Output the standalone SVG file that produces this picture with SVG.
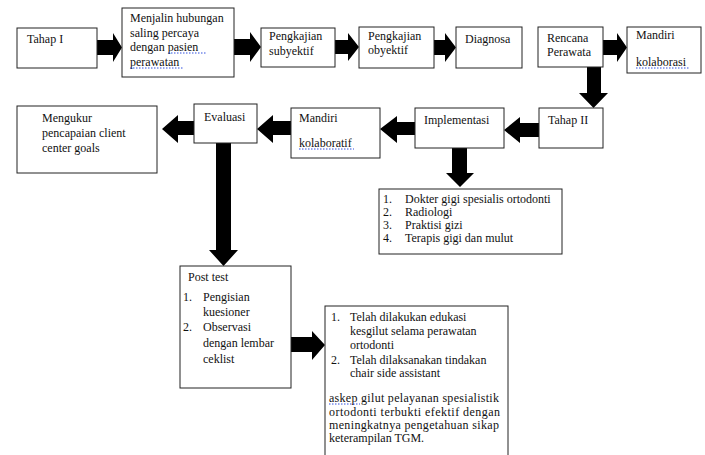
<svg xmlns="http://www.w3.org/2000/svg" width="705" height="455" viewBox="0 0 705 455">
<style>
.box{fill:#fff;stroke:#222;stroke-width:1}
text{font-family:"Liberation Serif","Times New Roman",serif;font-size:12px;fill:#111}
.arr{fill:#000}
.sq{stroke:#3050e0;stroke-width:1.2;stroke-dasharray:1.5 1.5;fill:none}
</style>
<rect width="705" height="455" fill="#fff"/>
<g id="connectors">
<polygon class="arr" points="97,40 113,40 113,33 122,47.5 113,62 113,55 97,55"/>
<polygon class="arr" points="234,39 250,39 250,32 261,47 250,62 250,55 234,55"/>
<polygon class="arr" points="335,40 348,40 348,33 359,47 348,61 348,54 335,54"/>
<polygon class="arr" points="434,40 445,40 445,33 456,47.5 445,62 445,55 434,55"/>
<polygon class="arr" points="603,40 617,40 617,33 627,47.5 617,62 617,55 603,55"/>
<polygon class="arr" points="587,67 601,67 601,93 608,93 593.5,108 579,93 587,93"/>
<polygon class="arr" points="539,123 520,123 520,117 504,130 520,143 520,137 539,137"/>
<polygon class="arr" points="415,122 397,122 397,116 380,129 397,143 397,135 415,135"/>
<polygon class="arr" points="291,121 273,121 273,115 257,129 273,143 273,135 291,135"/>
<polygon class="arr" points="194,121 178,121 178,115 162,129 178,143 178,135 194,135"/>
<polygon class="arr" points="452,148 467,148 467,173 474,173 460,187 446,173 452,173"/>
<polygon class="arr" points="216,143 231,143 231,250 238,250 223.5,266 209,250 216,250"/>
<polygon class="arr" points="291,337 312,337 312,331 325,345 312,360 312,352 291,352"/>
</g>
<g id="tahap1">
<rect class="box" x="17" y="28" width="80" height="40"/>
<text x="27" y="43">Tahap I</text>
</g>
<g id="menjalin">
<rect class="box" x="122" y="8" width="112" height="69"/>
<text x="130" y="22">Menjalin hubungan</text>
<text x="130" y="37">saling percaya</text>
<text x="130" y="51">dengan pasien</text>
<text x="130" y="66">perawatan</text>
<path class="sq" d="M168,53 H207 M130,68 H183"/>
</g>
<g id="subyektif">
<rect class="box" x="261" y="28" width="74" height="39"/>
<text x="269" y="40">Pengkajian</text>
<text x="269" y="55">subyektif</text>
</g>
<g id="obyektif">
<rect class="box" x="359" y="27" width="75" height="41"/>
<text x="368" y="40">Pengkajian</text>
<text x="368" y="54">obyektif</text>
</g>
<g id="diagnosa">
<rect class="box" x="456" y="27" width="66" height="41"/>
<text x="465" y="43">Diagnosa</text>
</g>
<g id="rencana">
<rect class="box" x="538" y="27" width="65" height="40"/>
<text x="547" y="42">Rencana</text>
<text x="547" y="56">Perawata</text>
</g>
<g id="mandiri-kolaborasi">
<rect class="box" x="627" y="27" width="74" height="46"/>
<text x="636" y="39">Mandiri</text>
<text x="636" y="66">kolaborasi</text>
<path class="sq" d="M636,68 H689"/>
</g>
<g id="tahap2">
<rect class="box" x="539" y="108" width="64" height="40"/>
<text x="548" y="124">Tahap II</text>
</g>
<g id="implementasi">
<rect class="box" x="415" y="108" width="89" height="40"/>
<text x="424" y="124">Implementasi</text>
</g>
<g id="mandiri-kolaboratif">
<rect class="box" x="291" y="108" width="89" height="50"/>
<text x="299" y="122">Mandiri</text>
<text x="299" y="147">kolaboratif</text>
<path class="sq" d="M299,149 H354"/>
</g>
<g id="evaluasi">
<rect class="box" x="194" y="104" width="63" height="39"/>
<text x="204" y="121">Evaluasi</text>
</g>
<g id="mengukur">
<rect class="box" x="17" y="106" width="140" height="67"/>
<text x="42" y="122">Mengukur</text>
<text x="42" y="137">pencapaian client</text>
<text x="42" y="152">center goals</text>
</g>
<g id="kolaborator-list">
<rect class="box" x="379" y="189" width="183" height="65"/>
<text x="383" y="203">1.</text><text x="405" y="203">Dokter gigi spesialis ortodonti</text>
<text x="383" y="216">2.</text><text x="405" y="216">Radiologi</text>
<text x="383" y="229">3.</text><text x="405" y="229">Praktisi gizi</text>
<text x="383" y="242">4.</text><text x="405" y="242">Terapis gigi dan mulut</text>
</g>
<g id="posttest">
<rect class="box" x="180" y="266" width="111" height="122"/>
<text x="188" y="281">Post test</text>
<text x="183" y="301">1.</text><text x="203" y="301">Pengisian</text>
<text x="203" y="316">kuesioner</text>
<text x="183" y="331">2.</text><text x="203" y="331">Observasi</text>
<text x="203" y="347">dengan lembar</text>
<text x="203" y="363">ceklist</text>
</g>
<g id="hasil">
<rect class="box" x="325" y="306" width="183" height="160"/>
<text x="331" y="321">1.</text><text x="350" y="321">Telah dilakukan edukasi</text>
<text x="350" y="335">kesgilut selama perawatan</text>
<text x="350" y="349">ortodonti</text>
<text x="331" y="364">2.</text><text x="350" y="364">Telah dilaksanakan tindakan</text>
<text x="350" y="377">chair side assistant</text>
<text x="329" y="402" textLength="170" lengthAdjust="spacing">askep gilut pelayanan spesialistik</text>
<text x="329" y="416" textLength="171" lengthAdjust="spacing">ortodonti terbukti efektif dengan</text>
<text x="329" y="429" textLength="170" lengthAdjust="spacing">meningkatnya pengetahuan sikap</text>
<text x="329" y="442">keterampilan TGM.</text>
<path class="sq" d="M329,404 H360"/>
</g>
</svg>
